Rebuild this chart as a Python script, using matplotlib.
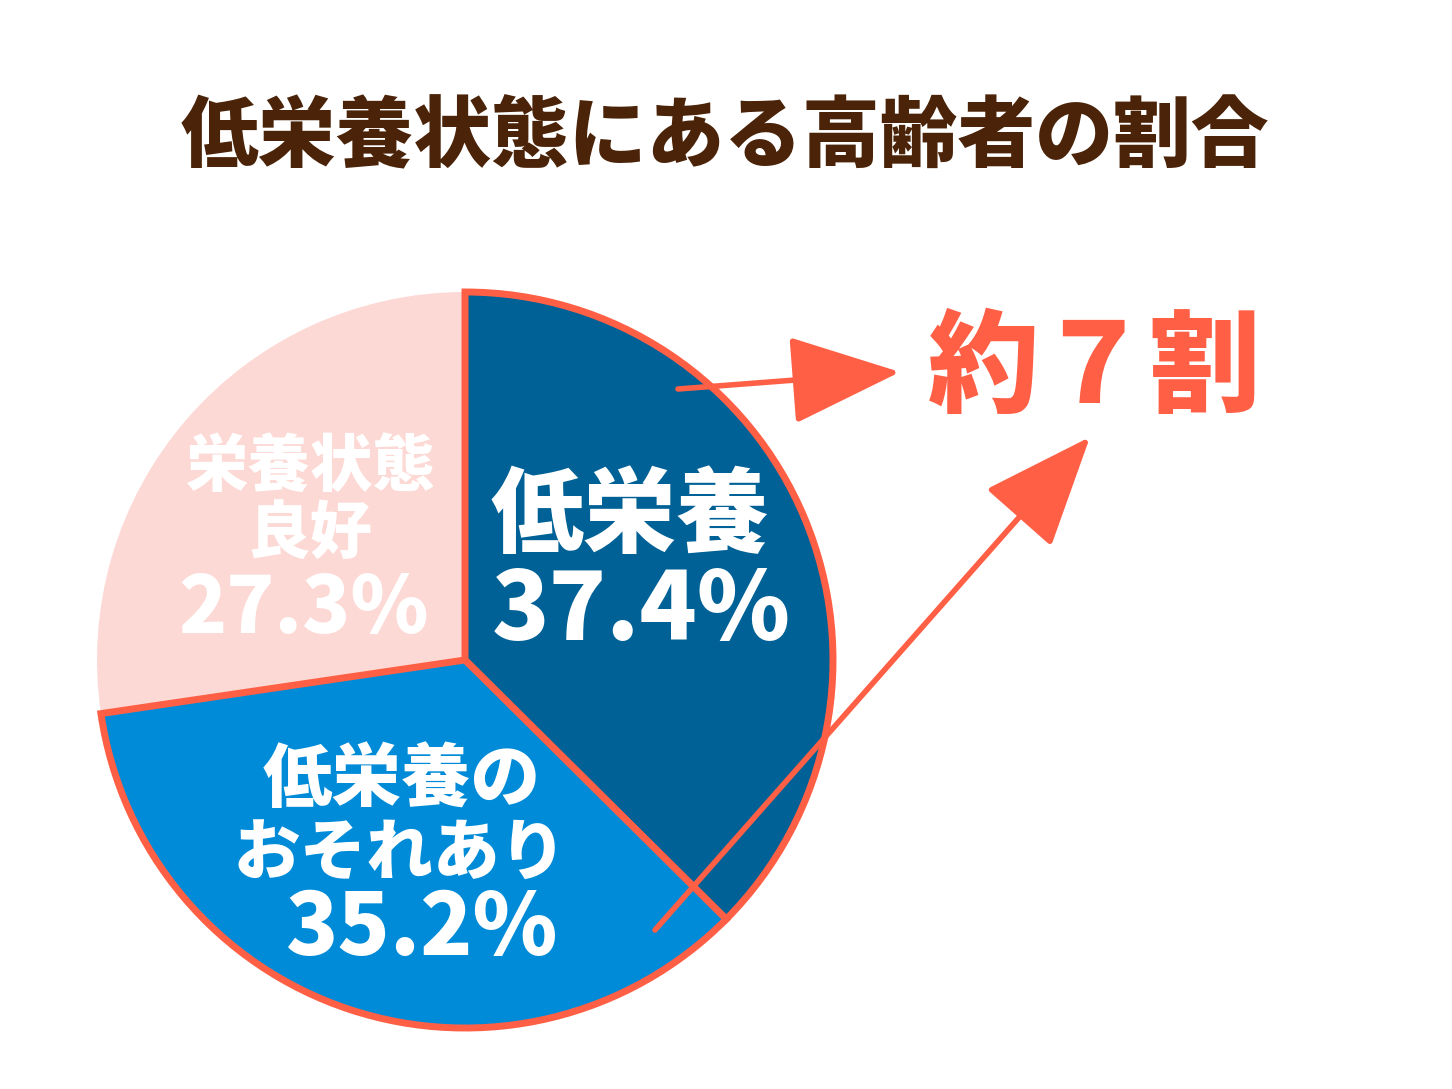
import matplotlib
matplotlib.use("Agg")
import matplotlib.pyplot as plt

labels = ["低栄養\n37.4%", "低栄養の\nおそれあり\n35.2%", "栄養状態\n良好\n27.3%"]
values = [37.4, 35.2, 27.3]
colors = ["#006196", "#008BD8", "#FDD9D5"]
title = "低栄養状態にある高齢者の割合"
callout = "約７割"

plt.rcParams['font.family'] = ['Noto Sans CJK JP', 'DejaVu Sans']
W, H = 1452, 1089
fig = plt.figure(figsize=(W/100, H/100), dpi=100)
ax = fig.add_axes([0, 0, 1, 1])
red = "#FF5F45"
cx, cy, R = 465, H-660, 368
wedges, _ = ax.pie(values, colors=colors, startangle=90, counterclock=False,
                   center=(cx, cy), radius=R, frame=True)
for w in wedges[:2]:
    w.set_edgecolor(red); w.set_linewidth(5)
    w.set_zorder(3)
wedges[2].set_zorder(2)
ax.set_xlim(0, W); ax.set_ylim(0, H)
ax.set_aspect('auto')
ax.axis('off')

fp = dict(color='white', fontweight='heavy', ha='center', va='center')
ax.text(630, H-517, "低栄養", fontsize=67, **fp, zorder=5)
ax.text(641, H-612, "37.4%", fontsize=68, **fp, zorder=5)
ax.text(402, H-780, "低栄養の", fontsize=50, **fp, zorder=5)
ax.text(400, H-855, "おそれあり", fontsize=48, **fp, zorder=5)
ax.text(422, H-930, "35.2%", fontsize=62, **fp, zorder=5)
ax.text(310, H-467, "栄養状態", fontsize=45, **fp, zorder=5)
ax.text(310, H-535, "良好", fontsize=45, **fp, zorder=5)
ax.text(304, H-610, "27.3%", fontsize=57, **fp, zorder=5)

ap = dict(arrowstyle="-|>,head_length=7,head_width=2.8", color=red, lw=4, shrinkA=0, shrinkB=0)
ax.annotate("", xy=(900, H-372), xytext=(678, H-389), arrowprops=ap, zorder=6)
ax.annotate("", xy=(1090, H-437), xytext=(655, H-930), arrowprops=ap, zorder=6)

ax.text(725, H-138, title, fontsize=56, fontweight='heavy', color="#4A2308", ha='center', va='center')
ax.text(1095, H-370, callout, fontsize=80, fontweight='heavy', color=red, ha='center', va='center')
fig.savefig("out.png", dpi=100, facecolor='white')
